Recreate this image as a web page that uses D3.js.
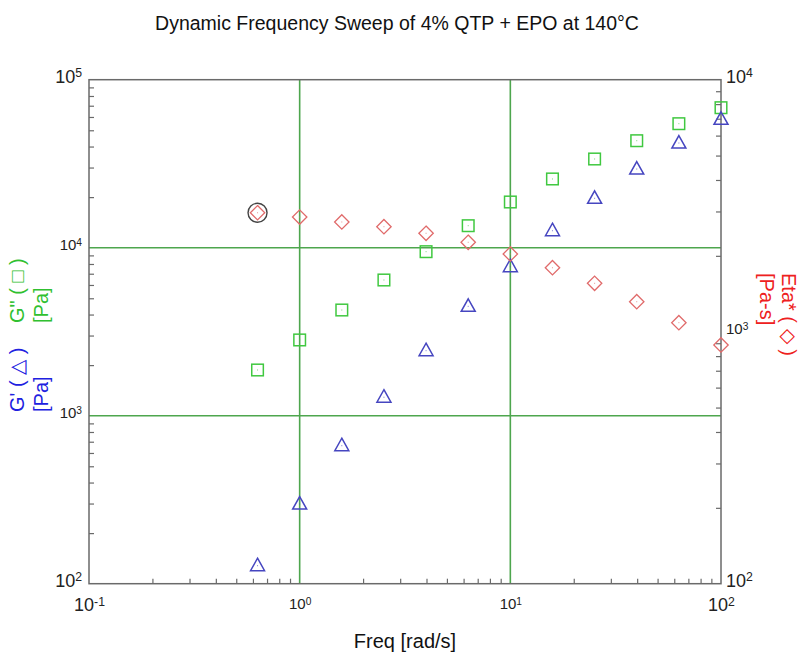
<!DOCTYPE html>
<html><head><meta charset="utf-8">
<script src="https://cdn.jsdelivr.net/npm/d3@7"></script>
<style>body{margin:0;background:#fff}svg{display:block}</style>
</head><body>
<svg id="chart" width="800" height="662"></svg>
<script>
// ---- data ----
const freq    = [0.631, 1, 1.585, 2.512, 3.981, 6.310, 10, 15.85, 25.12, 39.81, 63.10, 100];
const gPrime  = [128, 298, 663, 1288, 2438, 4478, 7706, 12620, 19680, 29400, 41990, 58100];
const gDouble = [1871, 2824, 4257, 6423, 9470, 13520, 18710, 25650, 33730, 43340, 54720, 68130];
const etaStar = [2965, 2851, 2725, 2610, 2458, 2264, 2034, 1794, 1556, 1315, 1086, 886];
const xTickExp      = [-1, 0, 1, 2];
const yLeftTickExp  = [2, 3, 4, 5];
const yRightTickExp = [2, 3, 4];
const xGridVals     = [1, 10];
const yGridVals     = [1000, 10000];
const highlightIndex = 0;

const svg = d3.select("#chart");
const L = 89, R = 721, T = 79.7, B = 583.7;
const FONT = "'Liberation Sans', Arial, Helvetica, sans-serif";

const x  = d3.scaleLog().domain([0.1, 100]).range([L, R]);
const yL = d3.scaleLog().domain([100, 1e5]).range([B, T]);
const yR = d3.scaleLog().domain([100, 1e4]).range([B, T]);

function minors(lo, hi) {
  const out = [];
  for (let e = lo; e < hi; e++) for (let m = 2; m <= 9; m++) out.push(m * Math.pow(10, e));
  return out;
}

const gridC = "#4ea64e", axisC = "#6a6a6a";

// gridlines
svg.append("g").selectAll("line").data(xGridVals).join("line")
  .attr("x1", d => x(d)).attr("x2", d => x(d)).attr("y1", T).attr("y2", B)
  .attr("stroke", gridC).attr("stroke-width", 1.6);
svg.append("g").selectAll("line").data(yGridVals).join("line")
  .attr("y1", d => yL(d)).attr("y2", d => yL(d)).attr("x1", L).attr("x2", R)
  .attr("stroke", gridC).attr("stroke-width", 1.6);

// minor ticks (inside)
function styleTicks(g) {
  g.select(".domain").remove();
  g.selectAll("line").attr("stroke", axisC).attr("stroke-width", 1.2);
}
svg.append("g").attr("transform", `translate(0,${B})`)
  .call(d3.axisBottom(x).tickValues(minors(-1, 2)).tickFormat("").tickSizeInner(-5).tickSizeOuter(0))
  .call(styleTicks);
svg.append("g").attr("transform", `translate(${L},0)`)
  .call(d3.axisLeft(yL).tickValues(minors(2, 5)).tickFormat("").tickSizeInner(-5).tickSizeOuter(0))
  .call(styleTicks);
svg.append("g").attr("transform", `translate(${R},0)`)
  .call(d3.axisRight(yR).tickValues(minors(2, 4)).tickFormat("").tickSizeInner(-5).tickSizeOuter(0))
  .call(styleTicks);

// frame
svg.append("rect").attr("x", L).attr("y", T).attr("width", R - L).attr("height", B - T)
  .attr("fill", "none").attr("stroke", axisC).attr("stroke-width", 1.5);

// tick labels with superscripts
function powLabels(g, exps, bigSize, smallSize) {
  g.select(".domain").remove();
  g.selectAll(".tick line").remove();
  const lo = d3.min(exps), hi = d3.max(exps);
  g.selectAll(".tick text").each(function(d) {
    const e = Math.round(Math.log10(d));
    const t = d3.select(this).text(null)
      .attr("font-family", FONT).attr("fill", "#222")
      .attr("font-size", (e === lo || e === hi) ? bigSize : smallSize);
    t.append("tspan").text("10");
    t.append("tspan").text(e).attr("dy", "-0.45em").attr("font-size", "0.68em");
  });
}
svg.append("g").attr("transform", `translate(0,${B})`)
  .call(d3.axisBottom(x).tickValues(xTickExp.map(e => Math.pow(10, e))).tickSize(0).tickPadding(15))
  .call(g => powLabels(g, xTickExp, 18, 15));
svg.append("g").attr("transform", `translate(${L},0)`)
  .call(d3.axisLeft(yL).tickValues(yLeftTickExp.map(e => Math.pow(10, e))).tickSize(0).tickPadding(7))
  .call(g => powLabels(g, yLeftTickExp, 18, 15))
  .call(g => g.selectAll(".tick text").attr("dy", "0.15em"));
svg.append("g").attr("transform", `translate(${R},0)`)
  .call(d3.axisRight(yR).tickValues(yRightTickExp.map(e => Math.pow(10, e))).tickSize(0).tickPadding(5))
  .call(g => powLabels(g, yRightTickExp, 18, 15))
  .call(g => g.selectAll(".tick text").attr("dy", "0.15em"));

// markers
const idx = d3.range(freq.length);
const blue = "#4646c0", green = "#40c840", red = "#e06a6a";

// squares (G'')
svg.append("g").selectAll("rect").data(idx).join("rect")
  .attr("x", i => x(freq[i]) - 5.8).attr("y", i => yL(gDouble[i]) - 5.8)
  .attr("width", 11.6).attr("height", 11.6)
  .attr("fill", "none").attr("stroke", green).attr("stroke-width", 1.5);
// triangles (G')
svg.append("g").selectAll("path").data(idx).join("path")
  .attr("d", i => {
    const cx = x(freq[i]), cy = yL(gPrime[i]);
    return `M${cx},${cy - 7.5}L${cx + 7},${cy + 5}L${cx - 7},${cy + 5}Z`;
  })
  .attr("fill", "none").attr("stroke", blue).attr("stroke-width", 1.5);
// diamonds (Eta*)
svg.append("g").selectAll("path").data(idx).join("path")
  .attr("d", i => {
    const cx = x(freq[i]), cy = yR(etaStar[i]);
    return `M${cx},${cy - 7.2}L${cx + 7.2},${cy}L${cx},${cy + 7.2}L${cx - 7.2},${cy}Z`;
  })
  .attr("fill", "none").attr("stroke", red).attr("stroke-width", 1.3);
// center dots
[[gDouble, yL, green], [gPrime, yL, blue], [etaStar, yR, red]].forEach(([vals, sc, c]) => {
  svg.append("g").selectAll("rect").data(idx).join("rect")
    .attr("x", i => x(freq[i]) - 0.5).attr("y", i => sc(vals[i]) - 0.5)
    .attr("width", 1).attr("height", 1).attr("fill", c).attr("opacity", 0.7);
});
// highlight circle
svg.append("circle")
  .attr("cx", x(freq[highlightIndex])).attr("cy", yR(etaStar[highlightIndex]))
  .attr("r", 9.5).attr("fill", "none").attr("stroke", "#444").attr("stroke-width", 1.4);

// titles
svg.append("text").attr("x", 397).attr("y", 30).attr("text-anchor", "middle")
  .attr("font-family", FONT).attr("font-size", 19.5).attr("fill", "#111")
  .text("Dynamic Frequency Sweep of 4% QTP + EPO at 140°C");
svg.append("text").attr("x", 405).attr("y", 648).attr("text-anchor", "middle")
  .attr("font-family", FONT).attr("font-size", 20).attr("fill", "#111")
  .text("Freq [rad/s]");

function vLabel(lines, color, x0, y0, rot, gap) {
  const g = svg.append("g").attr("transform", `translate(${x0},${y0}) rotate(${rot})`);
  lines.forEach((s, k) => {
    g.append("text").attr("x", 0).attr("y", k * gap).attr("text-anchor", "start")
      .attr("font-family", FONT).attr("font-size", 20).attr("fill", color)
      .attr("xml:space", "preserve").style("white-space", "pre").text(s);
  });
}
vLabel(["G\" ( \u25A1 )", "[Pa]"], "#30c030", 24, 323, -90, 24);
vLabel(["G' ( \u25B3 )", "[Pa]"], "#2020e0", 24, 412, -90, 24);
vLabel(["Eta* ( \u25C7 )", "[Pa-s]"], "#ee2020", 782, 273, 90, 22);
</script>
</body></html>
